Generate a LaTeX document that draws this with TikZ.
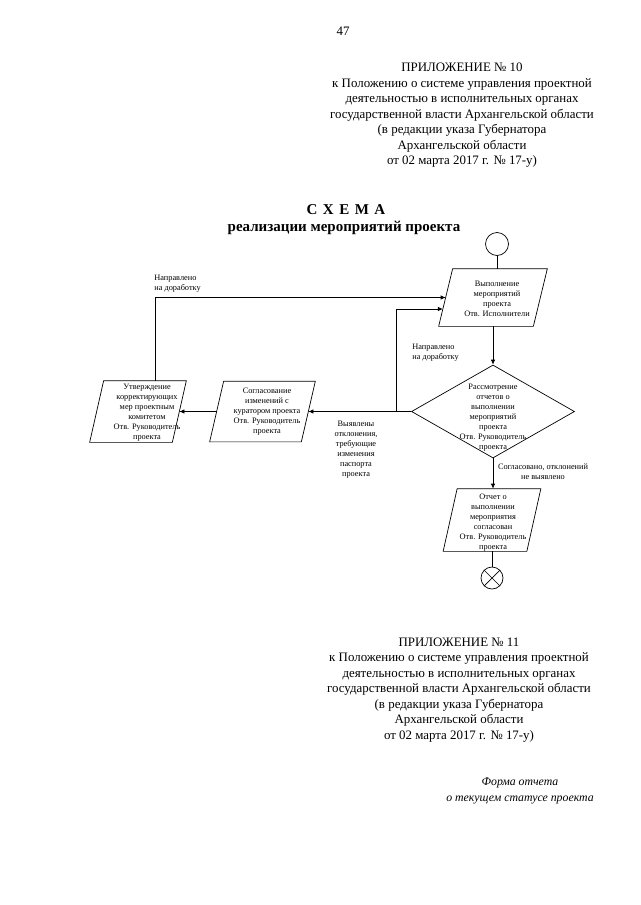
\documentclass[tikz,border=0pt]{standalone}
\usepackage{fontspec}
\setmainfont{Liberation Serif}
\usetikzlibrary{shapes.geometric,arrows.meta,calc}
\begin{document}
\begin{tikzpicture}[x=1pt,y=-1pt,
  line width=0.7pt,
  arr/.style={-{Latex[length=5pt,width=4.5pt]}},
  para/.style={rectangle, inner sep=0pt},
  small/.style={font=\fontsize{8.3}{10}\selectfont, align=center, inner sep=0pt},
  lbl/.style={font=\fontsize{8.3}{10}\selectfont, inner sep=0pt},
  body/.style={font=\fontsize{12.9}{15.5}\selectfont, align=center, inner sep=0pt},
  ttl/.style={font=\fontsize{15}{18}\selectfont\bfseries, inner sep=0pt}]
\useasboundingbox (0,0) rectangle (640,905);
% header texts
\node[body] (pg) at (343,31) {47};
\node[body] (app10) at (462,115.5) {ПРИЛОЖЕНИЕ № 10\\к Положению о системе управления проектной\\деятельностью в исполнительных органах\\государственной власти Архангельской области\\(в редакции указа Губернатора\\Архангельской области\\от 02 марта 2017 г. № 17-у)};
\node[ttl] (t1) at (346,210) {С\hskip5.5pt Х\hskip5.5pt Е\hskip5.5pt М\hskip5.5pt А};
\node[ttl] (t2) at (344,227.5) {реализации мероприятий проекта};
% flowchart shapes
\node[draw, circle, minimum size=23pt, inner sep=0pt] (start) at (497,244) {};
\node[para, minimum width=94pt, minimum height=57pt] (b1) at (493,297.5) {};
\node[small] (b1t) at (497,299) {Выполнение\\мероприятий\\проекта\\Отв. Исполнители};
\node[draw, diamond, minimum width=163pt, minimum height=93pt, inner sep=0pt] (d) at (493,411.5) {};
\node[small] (dt) at (493,418) {Рассмотрение\\отчетов о\\выполнении\\мероприятий\\проекта\\Отв. Руководитель\\проекта};
\node[para, minimum width=91pt, minimum height=60pt] (b2) at (262.5,411.5) {};
\node[small] (b2t) at (267,412) {Согласование\\изменений с\\куратором проекта\\Отв. Руководитель\\проекта};
\node[para, minimum width=82pt, minimum height=61pt] (b3) at (138,411.5) {};
\node[small] (b3t) at (147,413) {Утверждение\\корректирующих\\мер проектным\\комитетом\\Отв. Руководитель\\проекта};
\node[para, minimum width=83pt, minimum height=62pt] (b4) at (492,520) {};
\node[small] (b4t) at (493,523) {Отчет о\\выполнении\\мероприятия\\согласован\\Отв. Руководитель\\проекта};
\node[draw, circle, minimum size=22pt, inner sep=0pt] (e) at (492,578) {};
\draw (e.north west) -- (e.south east) (e.north east) -- (e.south west);
\foreach \n in {b1,b2,b3,b4}
  \draw ([xshift=7pt]\n.north west) -- ([xshift=7pt]\n.north east) -- ([xshift=-7pt]\n.south east) -- ([xshift=-7pt]\n.south west) -- cycle;
% connectors
\coordinate (j) at (396,411.5);
\coordinate (b1in) at ($([xshift=-7pt]b1.south west)!0.3!([xshift=7pt]b1.north west)$);
\coordinate (b3top) at ($(b3.north)+(17,0)$);
\draw (start.south) -- (start.south |- b1.north);
\draw[arr] (b1.south) -- (b1.south |- d.north);
\draw[arr] (d.west) -- (b2.east);
\draw[arr] (j) |- (b1in);
\draw[arr] (b2.west) -- (b3.east);
\draw[arr] (b3top) |- (b1.west);
\draw[arr] (d.south) -- (d.south |- b4.north);
\draw (b4.south) -- (e.north);
% labels
\node[lbl, anchor=west, align=left] (l1) at (154,283.5) {Направлено\\на доработку};
\node[lbl, anchor=west, align=left] (l2) at (412,352.5) {Направлено\\на доработку};
\node[small] (l3) at (356,450) {Выявлены\\отклонения,\\требующие\\изменения\\паспорта\\проекта};
\node[small] (l4) at (543,472) {Согласовано, отклонений\\не выявлено};
% second block
\node[body] (app11) at (459,690) {ПРИЛОЖЕНИЕ № 11\\к Положению о системе управления проектной\\деятельностью в исполнительных органах\\государственной власти Архангельской области\\(в редакции указа Губернатора\\Архангельской области\\от 02 марта 2017 г. № 17-у)};
\node[body, font=\fontsize{11.8}{16}\selectfont\itshape] (form) at (520,791) {Форма отчета\\о текущем статусе проекта};
\end{tikzpicture}
\end{document}
